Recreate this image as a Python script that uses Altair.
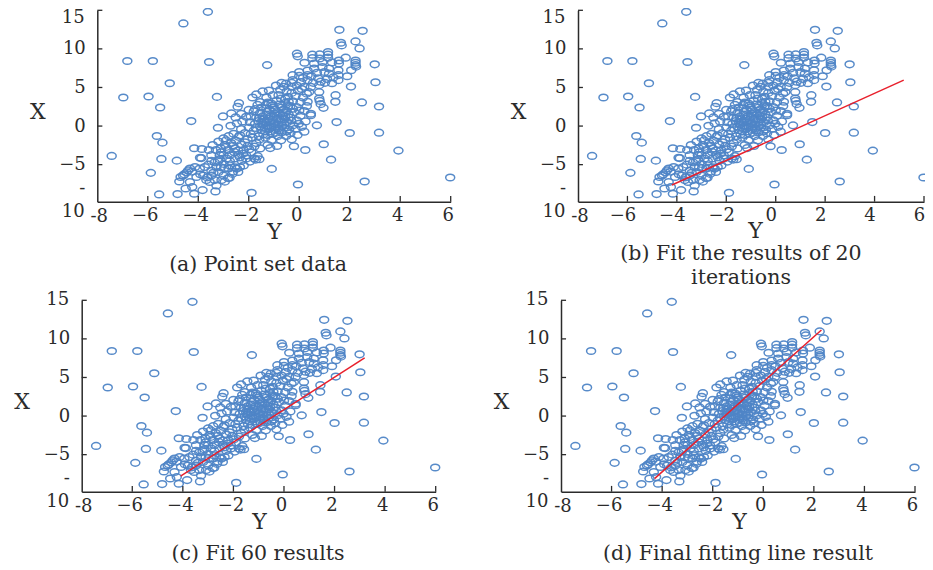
import altair as alt
import pandas as pd

FONT = "DejaVu Serif"
RING = "#4f85c7"
INK = "#2b2b2b"
RED = "#e8202c"

outliers = [(-3.62,14.8),(-4.59,13.3),(-6.81,8.43),(-5.80,8.43),(-3.57,8.3),(-5.13,5.55),(-6.97,3.7),(-5.97,3.83),
 (-3.26,3.78),(-5.51,2.41),(-4.28,0.65),(-5.64,-1.29),(-5.42,-2.15),(-7.43,-3.87),(-5.46,-4.26),(-4.85,-4.48),
 (-5.88,-6.06),(-5.55,-8.86),(-4.82,-8.81),(-4.16,-8.77),(-3.32,-8.47),(-3.83,-8.3),(-4.5,-8.09),(-4.24,-7.91),
 (1.59,12.47),(2.51,12.34),(1.65,10.8),(1.68,10.45),(2.23,10.97),(2.39,10.06),(-1.27,7.9),(2.99,8.0),(3.02,5.68),
 (2.05,5.12),(1.44,4.0),(1.43,3.14),(2.48,3.06),(3.16,2.54),(1.48,0.52),(0.7,0.09),(2.0,-0.9),(3.16,-0.86),
 (0.97,-2.36),(0.24,-3.1),(1.26,-4.35),(3.93,-3.18),(-1.09,-5.55),(-0.05,-7.57),(2.59,-7.18),(5.98,-6.67),(-1.89,-8.65)]

lower_cluster = [(-4.16,-2.88),(-3.86,-2.97),(-3.58,-3.1),(-3.93,-4.1),(-3.88,-4.15),(-3.48,-4.52),(-3.48,-3.77),(-3.15,-3.77),
 (-3.3,-3.1),(-3.43,-2.46),(-3.2,-2.0),(-3.0,-1.6),(-2.8,-1.3),(-2.95,-2.45),(-2.7,-2.2),(-2.55,-2.9),(-2.82,-3.1),
 (-3.0,-3.75),(-2.75,-3.75),(-2.4,-3.75),(-2.55,-4.2),(-2.88,-4.2),(-3.15,-4.3),(-2.28,-4.5),(-2.1,-4.2),(-2.2,-5.1),
 (-2.47,-5.5),(-2.75,-5.1),(-2.8,-5.5),(-3.0,-4.9),(-3.28,-5.3),(-3.48,-5.8),(-3.74,-5.3),(-3.94,-5.5),(-4.13,-5.3),
 (-4.33,-5.5),(-4.46,-6.0),(-4.6,-6.4),(-4.7,-6.6),(-4.75,-7.18),(-4.33,-7.25),(-4.07,-6.6),(-3.8,-6.4),(-3.68,-7.0),
 (-3.48,-6.4),(-3.35,-7.0),(-3.55,-7.25),(-3.28,-7.7),(-3.08,-7.0),(-2.82,-6.75),(-2.95,-7.2),(-3.0,-6.4),(-3.2,-5.95),
 (-4.4,-5.75),(-4.25,-5.9),(-4.55,-6.25),(-3.92,-6.25),(-3.6,-5.0),(-3.35,-4.7),(-3.1,-5.35),(-2.65,-6.2),(-2.42,-5.95),
 (-2.55,-5.35),(-2.35,-5.3),(-2.1,-3.8),(-1.95,-4.6),(-1.78,-4.2),(-1.65,-3.9),(-1.58,-4.3),(-1.72,-4.35),(-1.9,-3.4),
 (-2.2,-3.1),(-2.05,-2.6),(-2.3,-2.4),(-2.5,-1.9),(-2.6,-1.0),(-2.76,-6.7),(-2.62,-5.9),(-3.65,-6.65),(-3.4,-6.05),
 (-3.1,-2.9),(-2.9,-1.85),(-2.62,-2.55),(-2.42,-3.15),(-2.22,-3.55),(-2.75,-4.55),(-2.35,-4.05),(-2.98,-5.45),(-3.22,-4.55),
 (-2.15,-2.1),(-1.98,-3.0),(-2.4,-1.4),(-1.78,-2.65),(-2.58,-3.35),(-2.9,-2.7),(-3.1,-3.4)]

middle_cluster = [(-2.44,2.5),(-2.39,2.97),(-2.69,1.64),(-3.02,1.25),(-2.52,1.12),(-2.47,0.35),(-2.72,0.04),(-3.22,-0.22),
 (-2.3,-0.4),(-2.35,-1.2),(-2.15,-0.9),(-2.05,-1.7),(-2.0,-0.2),(-1.95,0.5),(-2.1,1.2),(-2.0,2.1),(-1.85,3.7),(-1.7,4.1),
 (-1.55,3.1),(-1.45,4.5),(-1.3,3.7),(-1.2,4.6),(-1.05,4.0),(-1.1,2.9),(-1.3,2.3),(-1.55,1.7),(-1.7,1.1),(-1.75,0.3),
 (-1.8,-0.6),(-1.85,-1.5),(-1.7,-2.2),(-1.55,-2.9),(-1.6,-1.3),(-1.5,-0.5),(-1.45,0.2),(-1.4,0.9),(-1.3,1.5),(-1.18,2.1),
 (-1.05,2.7),(-0.9,3.3),(-0.82,4.0),(-0.75,4.7),(-0.62,5.1),(-0.5,4.5),(-0.45,3.8),(-0.55,3.0),(-0.7,2.4),(-0.85,1.8),
 (-1.0,1.2),(-1.15,0.6),(-1.25,0.0),(-1.35,-0.7),(-1.35,-1.5),(-1.25,-2.45),(-1.1,-1.8),(-1.05,-1.0),(-0.95,-0.4),
 (-0.85,0.2),(-0.75,0.8),(-0.65,1.4),(-0.5,2.0),(-0.35,2.6),(-0.25,3.2),(-0.15,3.9),(-0.05,4.6),(-0.3,5.1),(-0.85,-1.3),
 (-0.88,-2.58),(-0.7,-0.8),(-0.6,-0.2),(-0.48,0.5),(-0.35,1.1),(-0.2,1.8),(-0.1,2.45),(0.05,3.1),(0.15,3.7),(0.3,4.2),
 (-0.52,-1.29),(-0.3,-1.72),(-0.21,-2.62),(-0.07,-1.16),(0.2,-0.73),(-0.4,-0.45),(-0.25,0.1),(-0.1,0.75),(0.05,1.35),
 (0.2,1.95),(0.3,2.6),(0.46,1.6),(0.46,1.4),(0.33,3.15),(0.96,2.36),(0.85,2.84),(0.81,3.26),(0.79,3.57),(0.1,-0.1),
 (0.25,0.6),(-1.55,-0.05),(-1.2,-0.35),(-1.0,0.35),(-0.9,0.95),(-0.75,1.55),(-0.58,0.9),(-0.42,1.5),(-1.15,1.25),
 (-1.45,1.25),(-1.62,0.65),(-1.3,0.45),(-1.1,-0.1),(-0.82,-0.25),(-0.6,0.3),(-0.95,2.15),(-0.78,2.8),(-0.55,3.55),
 (-0.3,4.3),(-1.25,3.05),(-1.5,2.4),(-1.8,1.9),(-1.92,1.25),(-1.58,-1.75),(-1.15,-2.85),(-0.72,-1.85),(-0.35,-0.95),
 (-2.25,0.6),(-2.3,1.6),(-1.65,2.75),(-1.35,-0.25),(-1.22,0.95),(-0.98,1.62),(-0.68,0.05),(-0.5,-0.7),(-0.15,-0.35),(-0.02,0.3),
 (-1.05,0.8),(-1.15,-0.7),(-0.92,-0.85),(-1.42,-1.05),(-1.28,1.85),(-1.02,2.35),(-0.72,3.55),(-0.42,3.15),(-0.62,2.15),
 (-1.58,1.05),(-1.72,-0.25),(-1.92,-1.05),(-0.88,1.35),(-0.55,1.18),(-0.32,0.72),(-0.78,-0.55),(-1.38,0.55),(-1.12,0.12),
 (-0.98,-0.12),(-0.7,0.45),(-1.5,0.55),(-1.25,-1.15),(-0.62,1.75),(-0.25,2.25),(0.0,2.0),(-0.45,2.6),(-1.32,2.75),(-1.75,2.2)]

upper_cluster = [(-0.09,9.38),(-0.06,9.03),(0.21,8.2),(0.52,9.25),(0.52,8.8),(0.81,9.29),(0.81,8.75),(1.14,9.59),(1.14,9.25),
 (1.14,8.86),(1.57,8.5),(1.57,8.1),(1.84,8.86),(2.23,8.5),(2.23,8.2),(2.23,7.9),(2.25,7.7),(2.06,7.23),(1.9,6.45),
 (1.55,7.23),(1.55,6.6),(1.55,5.95),(1.18,7.45),(1.18,6.8),(1.1,6.1),(0.92,8.3),(0.92,7.65),(1.0,7.0),(0.59,8.1),
 (0.59,7.45),(0.7,6.9),(0.75,6.2),(0.33,7.2),(0.33,6.6),(0.33,5.95),(0.0,7.0),(0.0,6.5),(0.07,5.7),(-0.26,6.6),
 (-0.26,5.95),(-0.52,5.5),(-0.3,5.6),(0.79,5.3),(0.46,5.07),(0.39,4.4),(0.79,4.4),(0.2,5.1),(0.1,4.8),(1.3,8.25),
 (0.48,6.45),(0.85,5.75),(1.3,5.55),(-0.7,5.6),(-0.92,5.25),(0.15,6.25),(-0.1,5.25),(0.55,5.6),(1.02,5.6),(1.35,6.3)]

tick_x = [-6, -4, -2, 0, 2, 4, 6]
tick_y = [15, 10, 5, 0, -5]
label_y = [10, 5, 0, -5]

panels = [
 {"x": [89.3, 442.7], "y": [193.7, 2.3], "caption": ["(a) Point set data"], "cap": (250, 257), "fit": None, "x_title": 266, "x_title_y": 30, "y_title": 103.7, "top_dy": 8, "lab_off": -3},
 {"x": [570, 916], "y": [193.7, 2.3], "caption": ["(b) Fit the results of 20", "iterations"], "cap": (733, 246), "fit": ([-4.2, 5.18], [-7.64, 5.96]), "x_title": 747, "x_title_y": 29, "y_title": 103.7, "top_dy": 8, "lab_off": -5},
 {"x": [73.7, 427.7], "y": [483.7, 292.3], "caption": ["(c) Fit 60 results"], "cap": (250, 546), "fit": ([-4.09, 3.19], [-7.77, 7.55]), "x_title": 251, "x_title_y": 30, "y_title": 393, "top_dy": 0, "lab_off": -3},
 {"x": [553, 907], "y": [483.7, 292.3], "caption": ["(d) Final fitting line result"], "cap": (730, 546), "fit": ([-4.3, 2.3], [-8.1, 11.16]), "x_title": 731, "x_title_y": 30, "y_title": 393, "top_dy": 0, "lab_off": -3},
]

W, H = 917, 556
RING_PATH = "M-1,0 A1,0.74 0 1,0 1,0 A1,0.74 0 1,0 -1,0 Z"
FS = 18
CAPTION_FS = 20.5
TITLE_FS = 22

points = pd.DataFrame(outliers + lower_cluster + middle_cluster + upper_cluster, columns=["px", "py"])


def panel(p):
    sx = alt.Scale(domain=[-8, 6], range=p["x"], nice=False, zero=False)
    sy = alt.Scale(domain=[-9.8, 15], range=p["y"], nice=False, zero=False)
    x_axis = alt.Axis(orient="bottom", offset=p["y"][0] - H, values=tick_x, format="d", ticks=False, grid=False, labelFont=FONT,
                      labelFontSize=FS, labelColor=INK, labelPadding=5, labelOffset=p["lab_off"], labelFlush=False, labelOverlap=False,
                      domainColor=INK, domainWidth=1.5, title="Y", titleFont=FONT, titleFontSize=TITLE_FS,
                      titleFontWeight="normal", titleColor=INK, titleX=p["x_title"], titleY=p["x_title_y"], titleBaseline="middle",
                      titleAlign="center")
    y_axis = alt.Axis(orient="left", offset=-p["x"][0], values=label_y, format="d", ticks=False, grid=False, labelFont=FONT,
                      labelFontSize=FS, labelColor=INK, labelPadding=12, labelFlush=False, labelOverlap=False, domainColor=INK,
                      domainWidth=1.5, title="X", titleFont=FONT, titleFontSize=TITLE_FS, titleFontWeight="normal",
                      titleColor=INK, titleAngle=0, titleX=-60, titleY=p["y_title"], titleBaseline="middle", titleAlign="center")
    rings = alt.Chart(points).mark_point(shape=RING_PATH, size=81, filled=False, color=RING, strokeWidth=1.5, opacity=0.95).encode(
        x=alt.X("px:Q", scale=sx, axis=x_axis), y=alt.Y("py:Q", scale=sy, axis=y_axis))
    layers = [rings]
    if p["fit"]:
        fit = pd.DataFrame({"px": p["fit"][0], "py": p["fit"][1]})
        layers.append(alt.Chart(fit).mark_line(color=RED, strokeWidth=1.5).encode(x="px:Q", y="py:Q"))
    xt = pd.DataFrame({"px": tick_x, "py": [-9.8] * len(tick_x), "py2": [-9.05] * len(tick_x)})
    layers.append(alt.Chart(xt).mark_rule(color=INK, strokeWidth=1.3).encode(x="px:Q", y="py:Q", y2="py2:Q"))
    yt = pd.DataFrame({"py": tick_y, "px": [-8] * len(tick_y), "px2": [-7.8] * len(tick_y)})
    layers.append(alt.Chart(yt).mark_rule(color=INK, strokeWidth=1.3).encode(x="px:Q", x2="px2:Q", y="py:Q"))
    wrapped = pd.DataFrame({"px": [-8, -8, -8, -8], "py": [15, -8.2, -9.8, -9.8], "t": ["15", "-", "10", "-8"],
                            "dx": [-24, -15, -24, 2], "dy": [p["top_dy"], 0, 10, 15]})
    for _, row in wrapped.iterrows():
        layers.append(alt.Chart(pd.DataFrame([row])).mark_text(font=FONT, fontSize=FS, color=INK, align="center", baseline="middle",
                                                               dx=row["dx"], dy=row["dy"]).encode(x="px:Q", y="py:Q", text="t:N"))
    layers.append(alt.Chart(pd.DataFrame({"t": [p["caption"]]})).mark_text(font=FONT, fontSize=CAPTION_FS, color=INK, align="center", baseline="middle",
                                                                lineHeight=24).encode(
        x=alt.value(p["cap"][0]), y=alt.value(p["cap"][1]), text=alt.Text("t:N")))
    return alt.layer(*layers)


chart = alt.layer(*[panel(p) for p in panels]).resolve_scale(x="independent", y="independent").resolve_axis(
    x="independent", y="independent").properties(width=W, height=H, padding=0, autosize=alt.AutoSizeParams(type="none"),
    background="white").configure_view(stroke=None)
chart.save("out.html", embed_options={"renderer": "svg", "actions": False})
